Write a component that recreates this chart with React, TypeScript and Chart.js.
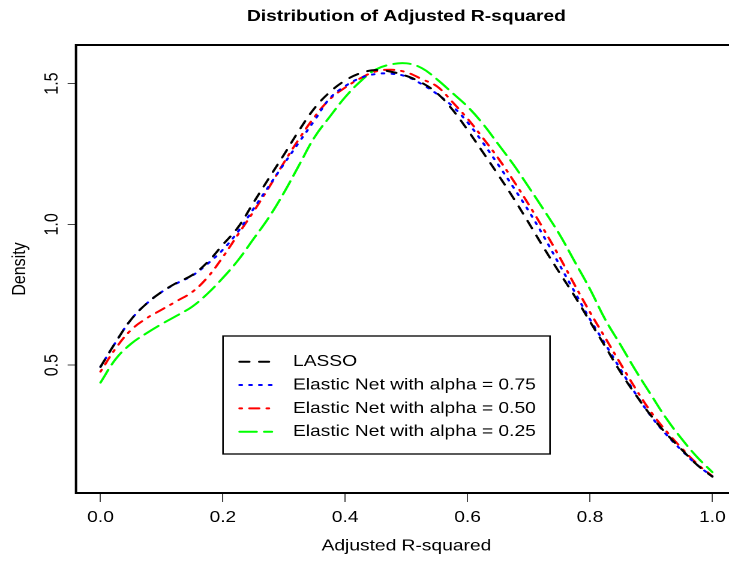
import React, { useEffect, useRef } from "react";
import { Chart, registerables } from "chart.js";

Chart.register(...registerables);

// ---------------- data ----------------
const xValues = [
  0, 0.025, 0.05, 0.075, 0.1, 0.125, 0.15, 0.175, 0.2, 0.225, 0.25, 0.275, 0.3, 0.325,
  0.35, 0.375, 0.4, 0.425, 0.45, 0.475, 0.5, 0.525, 0.55, 0.575, 0.6, 0.625, 0.65,
  0.675, 0.7, 0.725, 0.75, 0.775, 0.8, 0.825, 0.85, 0.875, 0.9, 0.925, 0.95, 0.975, 1.0,
];

const lassoDensity = [
  0.494, 0.582, 0.662, 0.718, 0.760, 0.793, 0.820, 0.866, 0.928, 0.990, 1.077, 1.163,
  1.248, 1.335, 1.413, 1.470, 1.511, 1.537, 1.548, 1.542, 1.527, 1.503, 1.466, 1.408,
  1.335, 1.256, 1.176, 1.093, 1.005, 0.915, 0.829, 0.745, 0.655, 0.566, 0.475, 0.394,
  0.320, 0.256, 0.200, 0.146, 0.104,
];

const enet075Density = [
  0.494, 0.582, 0.662, 0.718, 0.760, 0.791, 0.818, 0.860, 0.910, 0.975, 1.055, 1.135,
  1.215, 1.293, 1.370, 1.448, 1.491, 1.520, 1.534, 1.535, 1.525, 1.498, 1.463, 1.420,
  1.362, 1.290, 1.212, 1.131, 1.047, 0.955, 0.857, 0.760, 0.663, 0.575, 0.485, 0.397,
  0.318, 0.253, 0.197, 0.146, 0.105,
];

const enet050Density = [
  0.477, 0.560, 0.625, 0.666, 0.697, 0.728, 0.760, 0.812, 0.884, 0.965, 1.045, 1.130,
  1.220, 1.305, 1.382, 1.445, 1.486, 1.519, 1.543, 1.549, 1.540, 1.516, 1.490, 1.435,
  1.375, 1.307, 1.235, 1.155, 1.070, 0.980, 0.885, 0.785, 0.688, 0.597, 0.505, 0.415,
  0.333, 0.265, 0.205, 0.150, 0.106,
];

const enet025Density = [
  0.438, 0.522, 0.576, 0.613, 0.646, 0.676, 0.708, 0.754, 0.810, 0.873, 0.948, 1.024,
  1.113, 1.212, 1.310, 1.383, 1.452, 1.508, 1.550, 1.568, 1.572, 1.555, 1.515, 1.467,
  1.418, 1.357, 1.285, 1.212, 1.132, 1.050, 0.965, 0.868, 0.770, 0.662, 0.572, 0.480,
  0.394, 0.310, 0.238, 0.174, 0.120,
];

const seriesLabels = [
  "LASSO",
  "Elastic Net with alpha = 0.75",
  "Elastic Net with alpha = 0.50",
  "Elastic Net with alpha = 0.25",
];

const xTicks = [0, 0.2, 0.4, 0.6, 0.8, 1.0];
const yTicks = [0.5, 1.0, 1.5];

const chartTitle = "Distribution of Adjusted R-squared";
const xAxisTitle = "Adjusted R-squared";
const yAxisTitle = "Density";

// ---------------- styling ----------------
const SX = 1.2; // horizontal stretch of the reference picture
const FONT = '"Liberation Sans", Arial, Helvetica, sans-serif';
const CANVAS_W = 614;
const CANVAS_H = 563;

const seriesColors = ["#000000", "#0000FF", "#FF0000", "#00FF00"];
const seriesDashes = [
  [8.2, 8.2],
  [2, 6.2],
  [2, 6.2, 8.2, 6.2],
  [14.3, 6.2],
];

const boxPlugin = {
  id: "rBox",
  afterDatasetsDraw(chart: any) {
    const { ctx } = chart;
    const { left, top, right, bottom } = chart.chartArea;
    ctx.save();
    ctx.strokeStyle = "#000";
    ctx.lineWidth = 2;
    ctx.setLineDash([]);
    ctx.beginPath();
    ctx.moveTo(right + 10, top);
    ctx.lineTo(left, top);
    ctx.lineTo(left, bottom);
    ctx.lineTo(right + 10, bottom);
    ctx.stroke();
    ctx.restore();
  },
};

const legendPlugin = {
  id: "rLegend",
  afterDatasetsDraw(chart: any) {
    const { ctx } = chart;
    const bx0 = 223 / SX;
    const bx1 = 550 / SX;
    const by0 = 336;
    const by1 = 454;
    ctx.save();
    ctx.fillStyle = "#fff";
    ctx.fillRect(bx0, by0, bx1 - bx0, by1 - by0);
    ctx.strokeStyle = "#000";
    ctx.lineWidth = 1.3;
    ctx.setLineDash([]);
    ctx.strokeRect(bx0, by0, bx1 - bx0, by1 - by0);
    chart.data.datasets.forEach((ds: any, i: number) => {
      const y = 361.7 + i * 23.33;
      ctx.beginPath();
      ctx.setLineDash(ds.borderDash || []);
      ctx.lineCap = "round";
      ctx.lineWidth = 2;
      ctx.strokeStyle = ds.borderColor;
      ctx.moveTo(239.5 / SX, y);
      ctx.lineTo(272 / SX, y);
      ctx.stroke();
      ctx.setLineDash([]);
      ctx.fillStyle = "#000";
      ctx.font = `16px ${FONT}`;
      ctx.textBaseline = "middle";
      ctx.textAlign = "left";
      ctx.fillText(ds.label, 293 / SX, y);
    });
    ctx.restore();
  },
};

export default function App() {
  const canvasRef = useRef<HTMLCanvasElement | null>(null);

  useEffect(() => {
    if (!canvasRef.current) return;
    const series = [lassoDensity, enet075Density, enet050Density, enet025Density];
    const datasets = series.map((vals, i) => ({
      label: seriesLabels[i],
      data: xValues.map((x, j) => ({ x, y: vals[j] })),
      borderColor: seriesColors[i],
      backgroundColor: seriesColors[i],
      borderDash: seriesDashes[i],
      borderWidth: 2,
      borderCapStyle: "round",
      borderJoinStyle: "round",
      pointRadius: 0,
      tension: 0.4,
      fill: false,
    }));

    const chart = new Chart(canvasRef.current, {
      type: "line",
      data: { datasets } as any,
      plugins: [boxPlugin, legendPlugin],
      options: {
        responsive: false,
        animation: false,
        devicePixelRatio: 2,
        layout: { padding: 0 },
        plugins: {
          legend: { display: false },
          tooltip: { enabled: false },
          title: {
            display: true,
            text: chartTitle,
            fullSize: false,
            color: "#000",
            font: { family: FONT, size: 16, weight: "bold", lineHeight: 1.2 },
            padding: { top: 7, bottom: 18.8 },
          },
        },
        scales: {
          x: {
            type: "linear",
            min: -0.04,
            max: 1.04,
            afterFit: (s: any) => {
              s.height = 70;
            },
            afterBuildTicks: (s: any) => {
              s.ticks = xTicks.map((v) => ({ value: v }));
            },
            grid: {
              display: true,
              drawOnChartArea: false,
              drawTicks: true,
              tickLength: 9,
              color: "#444",
              lineWidth: 1,
            },
            border: { display: false },
            ticks: {
              color: "#000",
              font: { family: FONT, size: 16 },
              padding: 6,
              minRotation: 0,
              maxRotation: 0,
              autoSkip: false,
              callback: (v: any) => Number(v).toFixed(1),
            },
            title: {
              display: true,
              text: xAxisTitle,
              color: "#000",
              font: { family: FONT, size: 16 },
              padding: { top: 0, bottom: 7.2 },
            },
          },
          y: {
            type: "linear",
            min: 0.046,
            max: 1.637,
            afterFit: (s: any) => {
              s.width = 76 / SX;
            },
            afterBuildTicks: (s: any) => {
              s.ticks = yTicks.map((v) => ({ value: v }));
            },
            grid: {
              display: true,
              drawOnChartArea: false,
              drawTicks: true,
              tickLength: 7,
              color: "#444",
              lineWidth: 1,
            },
            border: { display: false },
            ticks: {
              color: "#000",
              font: { family: FONT, size: 16 },
              padding: 1.5,
              minRotation: 90,
              maxRotation: 90,
              crossAlign: "center",
              autoSkip: false,
              callback: (v: any) => Number(v).toFixed(1),
            },
            title: {
              display: true,
              text: yAxisTitle,
              color: "#000",
              font: { family: FONT, size: 16 },
              padding: { top: 7, bottom: 0 },
            },
          },
        },
      } as any,
    });

    return () => {
      chart.destroy();
    };
  }, []);

  return (
    <div
      style={{
        position: "fixed",
        left: 0,
        top: 0,
        width: 729,
        height: 563,
        overflow: "hidden",
        background: "#fff",
      }}
    >
      <canvas
        ref={canvasRef}
        width={CANVAS_W}
        height={CANVAS_H}
        style={{ transform: `scaleX(${SX})`, transformOrigin: "0 0", display: "block" }}
      />
    </div>
  );
}
